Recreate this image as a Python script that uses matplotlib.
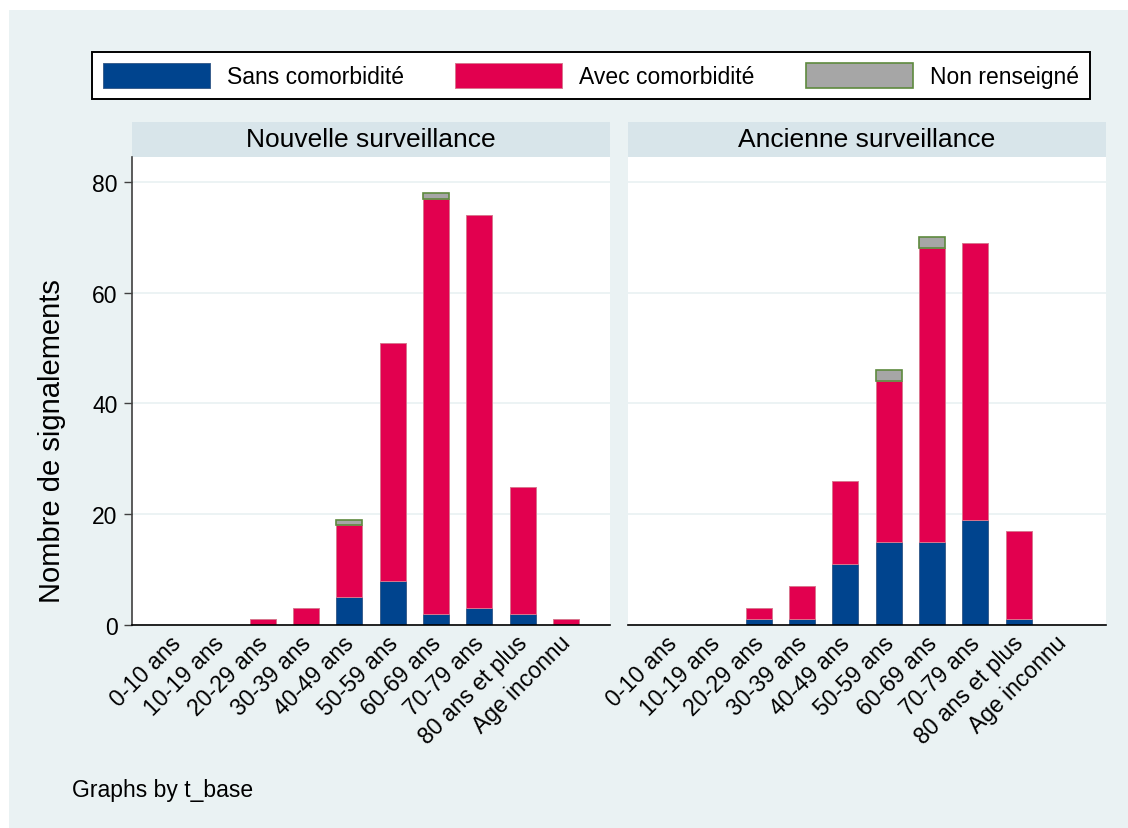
import numpy as np
import matplotlib.pyplot as plt
import matplotlib.transforms as mtransforms
from matplotlib.patches import Patch, Rectangle

plt.rcParams['font.family'] = ['Liberation Sans', 'DejaVu Sans']

# Data
categories = ['0-10 ans', '10-19 ans', '20-29 ans', '30-39 ans', '40-49 ans',
              '50-59 ans', '60-69 ans', '70-79 ans', '80 ans et plus', 'Age inconnu']
panels = ['Nouvelle surveillance', 'Ancienne surveillance']
series = ['Sans comorbidité', 'Avec comorbidité', 'Non renseigné']

sans_nouvelle = [0, 0, 0, 0, 5, 8, 2, 3, 2, 0]
avec_nouvelle = [0, 0, 1, 3, 13, 43, 75, 71, 23, 1]
nr_nouvelle = [0, 0, 0, 0, 1, 0, 1, 0, 0, 0]

sans_ancienne = [0, 0, 1, 1, 11, 15, 15, 19, 1, 0]
avec_ancienne = [0, 0, 2, 6, 15, 29, 53, 50, 16, 0]
nr_ancienne = [0, 0, 0, 0, 0, 2, 2, 0, 0, 0]

yticks = [0, 20, 40, 60, 80]

# Styles
c_blue = '#00448E'
c_red = '#E2004F'
c_grey = '#A6A6A6'
e_blue = '#3A5F8E'
e_red = '#D9768F'
e_grey = '#5E8A3E'
bg = '#EAF2F3'
strip_col = '#D8E5EA'

W, H = 1128, 829
fig = plt.figure(figsize=(W / 100, H / 100), dpi=100, facecolor='white')
fig.add_artist(Rectangle((9 / W, -0.05), 1.1, 1.05 - 11 / H, transform=fig.transFigure,
                         facecolor=bg, edgecolor='none', zorder=0))

ax_h = (626 - 158) / H
ax_y0 = 1 - 626 / H
ax1 = fig.add_axes([132 / W, ax_y0, 478 / W, ax_h])
ax2 = fig.add_axes([628 / W, ax_y0, 478 / W, ax_h])

data = [(sans_nouvelle, avec_nouvelle, nr_nouvelle),
        (sans_ancienne, avec_ancienne, nr_ancienne)]
x = np.arange(len(categories))
width = 0.6


def draw_stack(ax, vals, bottom, color, edge, lw):
    vals = np.array(vals, dtype=float)
    keep = vals > 0
    ax.bar(x[keep], vals[keep], width, bottom=bottom[keep], color=color,
           edgecolor=edge, linewidth=lw, zorder=2)


for ax, title, (sans, avec, nr) in zip([ax1, ax2], panels, data):
    ax.set_facecolor('white')
    bottom = np.zeros(len(categories))
    draw_stack(ax, sans, bottom, c_blue, e_blue, 0.7)
    bottom = bottom + np.array(sans)
    draw_stack(ax, avec, bottom, c_red, e_red, 0.7)
    bottom = bottom + np.array(avec)
    draw_stack(ax, nr, bottom, c_grey, e_grey, 1.2)

    ax.set_xlim(-1.02, 10.02)
    ax.set_ylim(0, 84.5)
    ax.set_yticks(yticks)
    ax.yaxis.grid(True, color=bg, linewidth=1.3)
    ax.set_axisbelow(True)

    ax.set_xticks(x)
    ax.set_xticklabels(categories, rotation=45, ha='right', va='baseline',
                       rotation_mode='anchor', fontsize=16.5)
    ax.tick_params(axis='x', length=0, pad=13.5)
    offset = mtransforms.ScaledTranslation(6 / 100, 0, fig.dpi_scale_trans)
    for lab in ax.get_xticklabels():
        lab.set_transform(lab.get_transform() + offset)

    for s in ['top', 'right']:
        ax.spines[s].set_visible(False)
    ax.spines['bottom'].set_color('black')
    ax.spines['bottom'].set_linewidth(1.2)

    # strip title
    sh = 35 / (626 - 158)
    ax.add_patch(Rectangle((0, 1), 1, sh, transform=ax.transAxes, clip_on=False,
                           facecolor=strip_col, edgecolor='none'))
    ax.text(0.5, 1 + sh / 2, title, transform=ax.transAxes, ha='center',
            va='center', fontsize=19)

ax1.spines['left'].set_color('#404040')
ax1.spines['left'].set_linewidth(1.2)
ax1.tick_params(axis='y', length=6, width=1, color='#404040', pad=4.5, labelsize=16.5)
ax2.spines['left'].set_visible(False)
ax2.tick_params(axis='y', length=0, labelleft=False)

fig.text(52 / W, 1 - 441 / H, 'Nombre de signalements', rotation=90,
         ha='center', va='center', fontsize=21)
fig.text(72 / W, 1 - 791 / H, 'Graphs by t_base', ha='left', va='center', fontsize=16.5)

handles = [Patch(facecolor=c_blue, edgecolor=e_blue, linewidth=0.7),
           Patch(facecolor=c_red, edgecolor=e_red, linewidth=0.7),
           Patch(facecolor=c_grey, edgecolor=e_grey, linewidth=1.2)]
leg = fig.legend(handles, series, loc='center', ncol=3, mode='expand',
                 bbox_to_anchor=(92 / W, 1 - 103 / H, 998 / W, 53 / H),
                 fontsize=16.5, handlelength=4.67, handleheight=1.27,
                 handletextpad=0.74, borderpad=0.5, borderaxespad=0,
                 fancybox=False, framealpha=1, facecolor='white', edgecolor='black')
leg.get_frame().set_linewidth(1.4)

fig.savefig('out.png', dpi=100, facecolor='white')
